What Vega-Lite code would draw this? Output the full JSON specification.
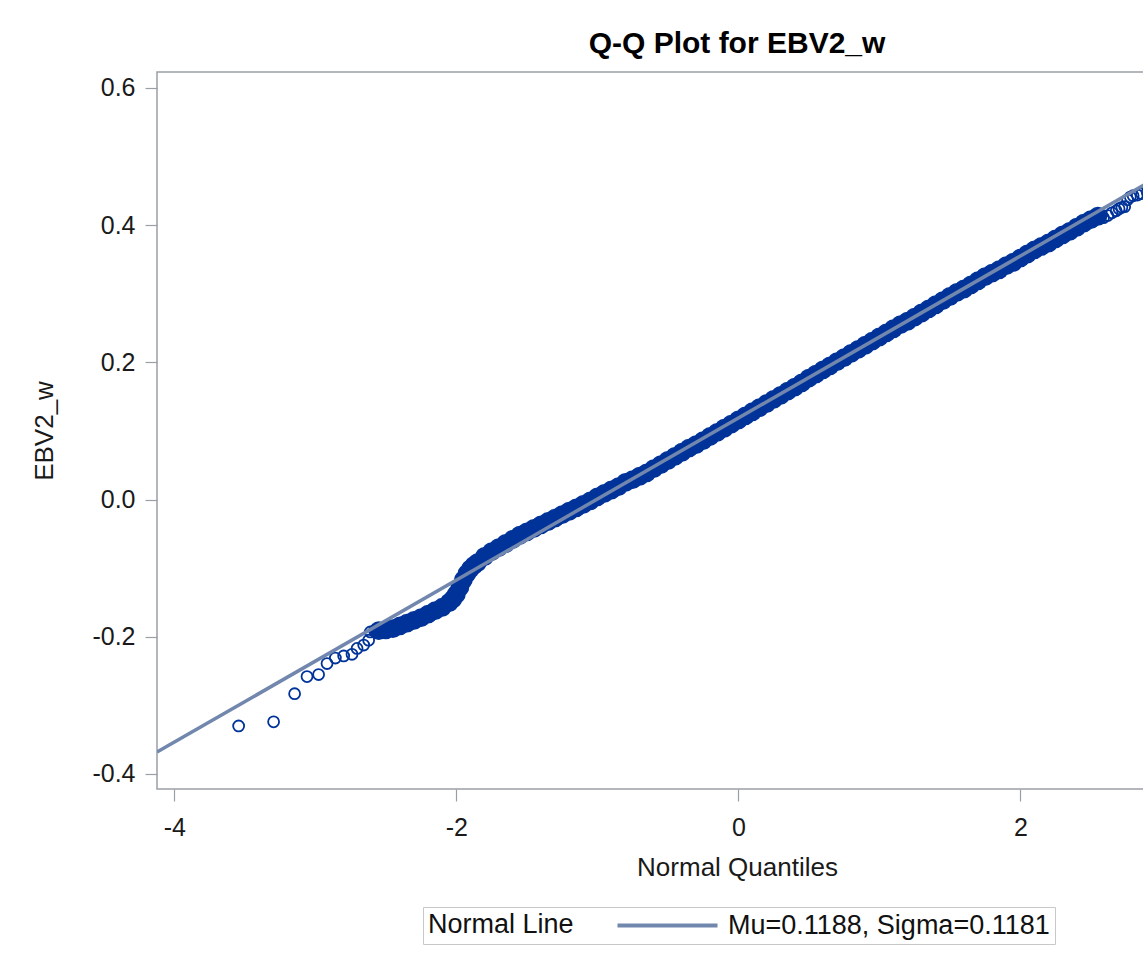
{
  "$schema": "https://vega.github.io/schema/vega-lite/v6.json",
  "autosize": {"type": "none"},
  "width": 1160,
  "height": 717,
  "padding": {"left": 157, "top": 72, "right": -174, "bottom": 173},
  "background": "white",
  "title": {"text": "Q-Q Plot for EBV2_w", "font": "Liberation Sans", "fontSize": 30, "fontWeight": "bold", "color": "#000000", "anchor": "middle", "offset": 13},
  "config": {
    "view": {"stroke": "#9a9fa6", "strokeWidth": 1.5},
    "axis": {"domain": false, "grid": false, "tickColor": "#9a9fa6", "tickWidth": 1.2, "tickSize": 12, "labelFont": "Liberation Sans", "labelFontSize": 25, "labelColor": "#1a1a1a", "titleFont": "Liberation Sans", "titleFontSize": 26, "titleFontWeight": "normal", "titleColor": "#1a1a1a"}
  },
  "datasets": {
    "body": [
      {"q": -2.55, "v": -0.191}, {"q": -2.50, "v": -0.190}, {"q": -2.45, "v": -0.188}, {"q": -2.40, "v": -0.184},
      {"q": -2.35, "v": -0.180}, {"q": -2.30, "v": -0.176}, {"q": -2.25, "v": -0.172}, {"q": -2.20, "v": -0.167},
      {"q": -2.15, "v": -0.162}, {"q": -2.10, "v": -0.157}, {"q": -2.05, "v": -0.150}, {"q": -2.025, "v": -0.145},
      {"q": -2.00, "v": -0.138}, {"q": -1.975, "v": -0.128}, {"q": -1.95, "v": -0.117}, {"q": -1.925, "v": -0.108},
      {"q": -1.90, "v": -0.101}, {"q": -1.875, "v": -0.096}, {"q": -1.85, "v": -0.092}, {"q": -1.80, "v": -0.083},
      {"q": -1.75, "v": -0.076}, {"q": -1.70, "v": -0.070}, {"q": -1.65, "v": -0.064}, {"q": -1.60, "v": -0.058},
      {"q": -1.55, "v": -0.052}, {"q": -1.50, "v": -0.047}, {"q": -1.45, "v": -0.042}, {"q": -1.40, "v": -0.037},
      {"q": -1.35, "v": -0.032}, {"q": -1.30, "v": -0.027}, {"q": -1.25, "v": -0.022}, {"q": -1.20, "v": -0.017},
      {"q": -1.15, "v": -0.012}, {"q": -1.10, "v": -0.007}, {"q": -1.05, "v": -0.002}, {"q": -1.00, "v": 0.004},
      {"q": -0.95, "v": 0.009}, {"q": -0.90, "v": 0.014}, {"q": -0.85, "v": 0.019}, {"q": -0.80, "v": 0.025},
      {"q": -0.75, "v": 0.029}, {"q": -0.70, "v": 0.034}, {"q": -0.65, "v": 0.039}, {"q": -0.60, "v": 0.045},
      {"q": -0.55, "v": 0.051}, {"q": -0.50, "v": 0.057}, {"q": -0.45, "v": 0.063}, {"q": -0.40, "v": 0.069},
      {"q": -0.35, "v": 0.075}, {"q": -0.30, "v": 0.080}, {"q": -0.25, "v": 0.086}, {"q": -0.20, "v": 0.092},
      {"q": -0.15, "v": 0.098}, {"q": -0.10, "v": 0.104}, {"q": -0.05, "v": 0.110}, {"q": 0.00, "v": 0.116},
      {"q": 0.05, "v": 0.122}, {"q": 0.10, "v": 0.128}, {"q": 0.15, "v": 0.134}, {"q": 0.20, "v": 0.140},
      {"q": 0.25, "v": 0.146}, {"q": 0.30, "v": 0.152}, {"q": 0.35, "v": 0.158}, {"q": 0.40, "v": 0.164},
      {"q": 0.45, "v": 0.170}, {"q": 0.50, "v": 0.177}, {"q": 0.55, "v": 0.183}, {"q": 0.60, "v": 0.189},
      {"q": 0.65, "v": 0.195}, {"q": 0.70, "v": 0.201}, {"q": 0.75, "v": 0.207}, {"q": 0.80, "v": 0.213},
      {"q": 0.85, "v": 0.219}, {"q": 0.90, "v": 0.225}, {"q": 0.95, "v": 0.231}, {"q": 1.00, "v": 0.237},
      {"q": 1.05, "v": 0.243}, {"q": 1.10, "v": 0.249}, {"q": 1.15, "v": 0.255}, {"q": 1.20, "v": 0.260},
      {"q": 1.25, "v": 0.266}, {"q": 1.30, "v": 0.272}, {"q": 1.35, "v": 0.278}, {"q": 1.40, "v": 0.284},
      {"q": 1.45, "v": 0.290}, {"q": 1.50, "v": 0.296}, {"q": 1.55, "v": 0.302}, {"q": 1.60, "v": 0.307},
      {"q": 1.65, "v": 0.313}, {"q": 1.70, "v": 0.319}, {"q": 1.75, "v": 0.325}, {"q": 1.80, "v": 0.330},
      {"q": 1.85, "v": 0.335}, {"q": 1.90, "v": 0.341}, {"q": 1.95, "v": 0.346}, {"q": 2.00, "v": 0.352},
      {"q": 2.05, "v": 0.358}, {"q": 2.10, "v": 0.364}, {"q": 2.15, "v": 0.369}, {"q": 2.20, "v": 0.374},
      {"q": 2.25, "v": 0.380}, {"q": 2.30, "v": 0.386}, {"q": 2.35, "v": 0.391}, {"q": 2.40, "v": 0.397},
      {"q": 2.45, "v": 0.403}, {"q": 2.50, "v": 0.408}, {"q": 2.55, "v": 0.413}
    ],
    "tail": [
      {"q": -3.544, "v": -0.330}, {"q": -3.296, "v": -0.324}, {"q": -3.147, "v": -0.283}, {"q": -3.059, "v": -0.258},
      {"q": -2.977, "v": -0.255}, {"q": -2.917, "v": -0.239}, {"q": -2.858, "v": -0.231}, {"q": -2.799, "v": -0.228},
      {"q": -2.740, "v": -0.2255}, {"q": -2.704, "v": -0.217}, {"q": -2.657, "v": -0.212}, {"q": -2.622, "v": -0.205},
      {"q": -2.610, "v": -0.193}, {"q": -2.580, "v": -0.191},
      {"q": 2.59, "v": 0.411}, {"q": 2.62, "v": 0.414}, {"q": 2.65, "v": 0.418}, {"q": 2.68, "v": 0.421},
      {"q": 2.70, "v": 0.424}, {"q": 2.72, "v": 0.426}, {"q": 2.74, "v": 0.427}, {"q": 2.76, "v": 0.437},
      {"q": 2.78, "v": 0.441}, {"q": 2.80, "v": 0.443}, {"q": 2.83, "v": 0.444}, {"q": 2.86, "v": 0.446},
      {"q": 2.90, "v": 0.448}
    ],
    "line": [
      {"q": -4.123, "v": -0.3681, "series": "Mu=0.1188, Sigma=0.1181"},
      {"q": 4.104, "v": 0.6035, "series": "Mu=0.1188, Sigma=0.1181"}
    ]
  },
  "encoding": {
    "x": {"field": "q", "type": "quantitative", "scale": {"domain": [-4.123, 4.104], "nice": false, "zero": false},
      "axis": {"title": "Normal Quantiles", "values": [-4, -2, 0, 2], "format": "d", "labelExpr": "replace(datum.label, '−', '-')", "labelPadding": 14, "titlePadding": 14, "titleX": 580}},
    "y": {"field": "v", "type": "quantitative", "scale": {"domain": [-0.4219, 0.6233], "nice": false, "zero": false},
      "axis": {"title": "EBV2_w", "values": [-0.4, -0.2, 0, 0.2, 0.4, 0.6], "format": ".1f", "labelExpr": "replace(datum.label, '−', '-')", "labelPadding": 10, "titlePadding": 34}}
  },
  "layer": [
    {"data": {"name": "body"}, "mark": {"type": "point", "shape": "circle", "filled": true, "size": 300, "color": "#003399", "stroke": "#003399", "strokeWidth": 1.5, "opacity": 1, "clip": true}},
    {"data": {"name": "tail"}, "mark": {"type": "point", "shape": "circle", "filled": false, "size": 120, "color": "#003399", "strokeWidth": 1.8, "opacity": 1, "clip": true}},
    {"data": {"name": "line"}, "mark": {"type": "line", "strokeWidth": 3.5, "clip": true},
      "encoding": {"color": {"field": "series", "type": "nominal", "scale": {"range": ["#7287ad"]},
        "legend": {"title": "Normal Line", "orient": "none", "legendX": 266, "legendY": 835, "direction": "horizontal", "titleOrient": "left", "titleAnchor": "middle", "titleBaseline": "middle", "titleFont": "Liberation Sans", "titleFontSize": 27, "titleFontWeight": "normal", "titleColor": "#111111", "titlePadding": 80, "labelFont": "Liberation Sans", "labelFontSize": 27, "labelColor": "#111111", "labelLimit": 600, "labelOffset": 47, "symbolType": "M-5,0L5,0", "symbolSize": 400, "symbolStrokeWidth": 4, "strokeColor": "#c8c8c8", "padding": 5}}}}
  ]
}
